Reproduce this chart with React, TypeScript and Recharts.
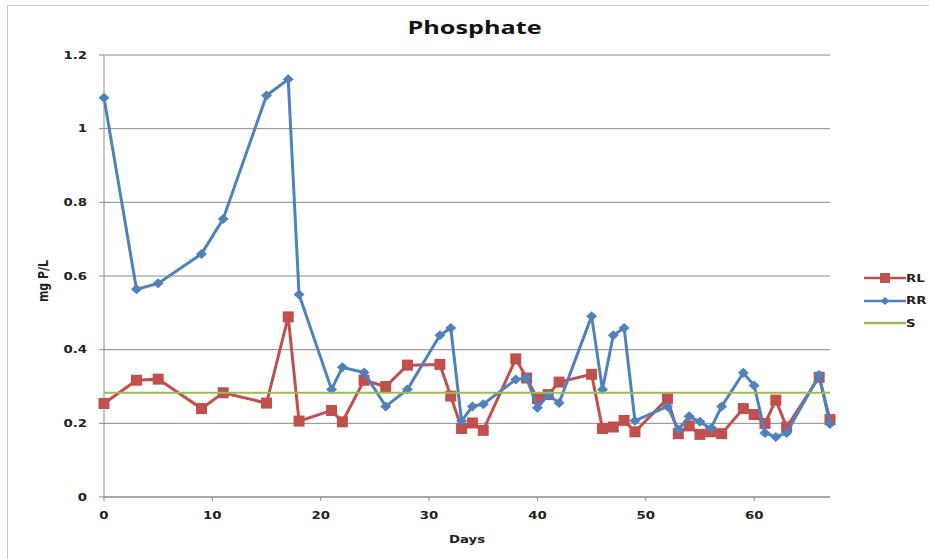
import React from "react";
import {
  ScatterChart,
  Scatter,
  XAxis,
  YAxis,
  CartesianGrid,
  Legend,
} from "recharts";

// days sampled for each series
const rlDays = [0, 3, 5, 9, 11, 15, 17, 18, 21, 22, 24, 26, 28, 31, 32, 33, 34, 35, 38, 39, 40, 41, 42, 45, 46, 47, 48, 49, 52, 53, 54, 55, 56, 57, 59, 60, 61, 62, 63, 66, 67];
const rlValues = [0.254, 0.317, 0.32, 0.24, 0.283, 0.255, 0.489, 0.206, 0.235, 0.204, 0.317, 0.3, 0.358, 0.36, 0.274, 0.186, 0.201, 0.181, 0.375, 0.323, 0.267, 0.278, 0.312, 0.333, 0.186, 0.19, 0.208, 0.177, 0.267, 0.172, 0.193, 0.17, 0.177, 0.172, 0.24, 0.224, 0.2, 0.263, 0.19, 0.325, 0.21];

const rrDays = [0, 3, 5, 9, 11, 15, 17, 18, 21, 22, 24, 26, 28, 31, 32, 33, 34, 35, 38, 39, 40, 41, 42, 45, 46, 47, 48, 49, 52, 53, 54, 55, 56, 57, 59, 60, 61, 62, 63, 66, 67];
const rrValues = [1.084, 0.564, 0.58, 0.66, 0.755, 1.09, 1.134, 0.55, 0.292, 0.352, 0.338, 0.246, 0.292, 0.439, 0.459, 0.206, 0.246, 0.252, 0.319, 0.323, 0.242, 0.278, 0.255, 0.491, 0.292, 0.439, 0.459, 0.207, 0.246, 0.183, 0.219, 0.204, 0.186, 0.246, 0.337, 0.303, 0.174, 0.163, 0.174, 0.331, 0.198];

const sDays = [0, 67];
const sValues = [0.283, 0.283];

const xTicks = [0, 10, 20, 30, 40, 50, 60];
const yTicks = [0, 0.2, 0.4, 0.6, 0.8, 1, 1.2];

const toPoints = (days: number[], vals: number[]) =>
  days.map((d, i) => ({ day: d, v: vals[i] }));

const rl = toPoints(rlDays, rlValues);
const rr = toPoints(rrDays, rrValues);
const s = toPoints(sDays, sValues);

const RED = "#C0504D";
const BLUE = "#4F81BD";
const GREEN = "#9BBB59";
const FONT = "'DejaVu Sans', Verdana, sans-serif";
const STRETCH = 1.33; // the source picture is stretched sideways

const Square = (props: any) => {
  const { cx, cy } = props;
  if (cx == null || cy == null) return null;
  return <rect x={cx - 5.5} y={cy - 5.5} width={11} height={11} fill={RED} />;
};

const Diamond = (props: any) => {
  const { cx, cy } = props;
  if (cx == null || cy == null) return null;
  return (
    <polygon
      points={`${cx},${cy - 5} ${cx + 5.5},${cy} ${cx},${cy + 5} ${cx - 5.5},${cy}`}
      fill={BLUE}
    />
  );
};

const NoDot = () => <g />;

const XTick = (props: any) => {
  const { x, y, payload } = props;
  return (
    <text
      transform={`translate(${x},${y}) scale(${STRETCH},1)`}
      textAnchor="middle"
      dy="0.71em"
      fill="#222"
      fontSize={10}
      fontWeight={700}
      fontFamily={FONT}
    >
      {payload.value}
    </text>
  );
};

const YTick = (props: any) => {
  const { x, y, payload } = props;
  return (
    <text
      transform={`translate(${x},${y}) scale(${STRETCH},1)`}
      textAnchor="end"
      dy="0.355em"
      fill="#222"
      fontSize={10}
      fontWeight={700}
      fontFamily={FONT}
    >
      {payload.value}
    </text>
  );
};

const DaysLabel = (props: any) => {
  const { viewBox } = props;
  const cx = viewBox.x + viewBox.width / 2;
  return (
    <text
      transform={`translate(${cx},${viewBox.y + 42}) scale(${STRETCH},1)`}
      textAnchor="middle"
      dy="0.355em"
      fill="#222"
      fontSize={10}
      fontWeight={700}
      fontFamily={FONT}
    >
      Days
    </text>
  );
};

const UnitLabel = (props: any) => {
  const { viewBox } = props;
  const cy = viewBox.y + viewBox.height / 2 + 5;
  return (
    <text
      transform={`translate(${viewBox.x - 6},${cy}) rotate(-90) scale(1,${STRETCH})`}
      textAnchor="middle"
      dy="0.71em"
      fill="#222"
      fontSize={11}
      fontWeight={700}
      fontFamily={FONT}
    >
      mg P/L
    </text>
  );
};

const legendItems = [
  { name: "RL", color: RED, marker: "square" },
  { name: "RR", color: BLUE, marker: "diamond" },
  { name: "S", color: GREEN, marker: "none" },
];

const LegendBox = () => (
  <div style={{ fontFamily: FONT, fontSize: 10, fontWeight: 700 }}>
    {legendItems.map((it) => (
      <div key={it.name} style={{ display: "flex", alignItems: "center", height: 22.5 }}>
        <svg width={42} height={12}>
          <line x1={0} y1={6} x2={42} y2={6} stroke={it.color} strokeWidth={2.5} />
          {it.marker === "square" && <rect x={16} y={1} width={10} height={10} fill={it.color} />}
          {it.marker === "diamond" && (
            <polygon points="21,2 25.5,6 21,10 16.5,6" fill={it.color} />
          )}
        </svg>
        <span
          style={{
            color: "#222",
            display: "inline-block",
            transform: `scaleX(${STRETCH})`,
            transformOrigin: "left center",
          }}
        >
          {it.name}
        </span>
      </div>
    ))}
  </div>
);

export default function App() {
  return (
    <div style={{ position: "relative", width: 929, height: 559, background: "#fff" }}>
      <style>{`body{margin:0}`}</style>
      <div
        style={{
          position: "absolute",
          left: 7,
          top: 5,
          width: 940,
          height: 560,
          border: "1px solid #c8c8c8",
          boxSizing: "border-box",
        }}
      />
      <div
        style={{
          position: "absolute",
          top: 15,
          left: 0,
          width: 949,
          textAlign: "center",
          fontFamily: "'Open Sans', sans-serif",
          fontWeight: 700,
          fontSize: 18,
          color: "#111",
          transform: `scaleX(1.4)`,
          transformOrigin: "474.5px center",
        }}
      >
        Phosphate
      </div>
      <ScatterChart
        width={929}
        height={559}
        margin={{ top: 55, right: 99, bottom: 32, left: 44 }}
        style={{ position: "absolute", left: 0, top: 0 }}
      >
        <CartesianGrid vertical={false} stroke="#8a8a8a" strokeWidth={1} />
        <XAxis
          type="number"
          dataKey="day"
          domain={[0, 67]}
          ticks={xTicks}
          height={30}
          stroke="#8a8a8a"
          tickSize={4}
          tickMargin={11}
          tick={<XTick />}
          label={<DaysLabel />}
        />
        <YAxis
          type="number"
          dataKey="v"
          domain={[0, 1.2]}
          ticks={yTicks}
          width={60}
          stroke="#8a8a8a"
          tickSize={5}
          tickMargin={12}
          tick={<YTick />}
          label={<UnitLabel />}
        />
        <Legend
          layout="vertical"
          align="center"
          verticalAlign="middle"
          content={<LegendBox />}
          wrapperStyle={{ left: 864, top: 267, width: 65 }}
        />
        <Scatter
          name="RL"
          data={rl}
          line={{ stroke: RED, strokeWidth: 3 }}
          shape={<Square />}
          isAnimationActive={false}
        />
        <Scatter
          name="RR"
          data={rr}
          line={{ stroke: BLUE, strokeWidth: 3 }}
          shape={<Diamond />}
          isAnimationActive={false}
        />
        <Scatter
          name="S"
          data={s}
          line={{ stroke: GREEN, strokeWidth: 2 }}
          shape={<NoDot />}
          isAnimationActive={false}
        />
      </ScatterChart>
    </div>
  );
}
